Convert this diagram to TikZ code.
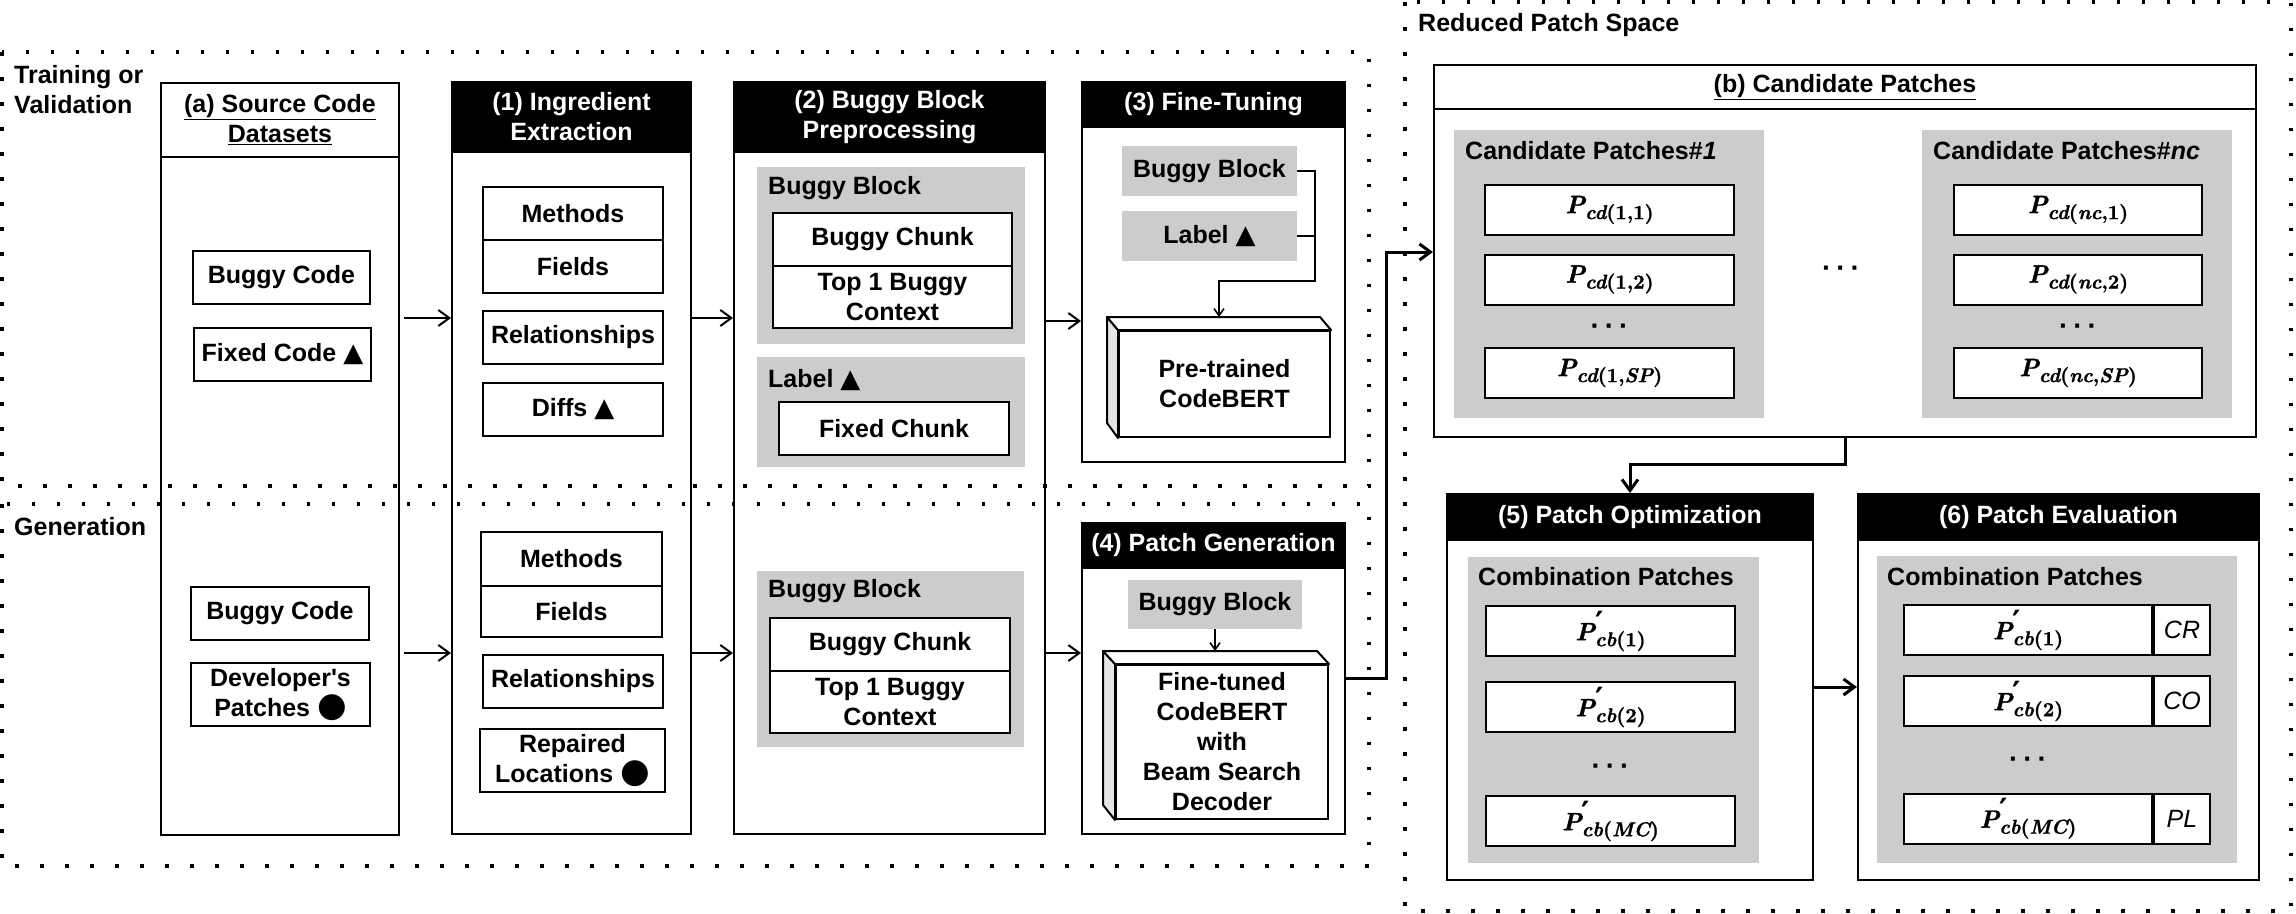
\documentclass[tikz,border=0pt]{standalone}
\usepackage{fontspec}
\setmainfont{Liberation Sans}[Ligatures=TeXOff]
\newfontfamily\mysymf{DejaVu Sans}
\newfontfamily\lmbi{lmroman10-bolditalic.otf}[FakeBold=1.5]
\newfontfamily\lmbis{lmroman10-bolditalic.otf}[FakeBold=1.2]
\newfontfamily\lmb{lmroman10-bold.otf}[FakeBold=1.2]
\newcommand{\mytri}{{\mysymf\fontsize{26}{26}\selectfont ▲}}
\newcommand{\mycirc}{{\mysymf\fontsize{34}{30}\selectfont ●}}
\newcommand{\Pbig}{{\lmbi\fontseries{m}\fontshape{n}\fontsize{25}{26}\selectfont P}}
\newcommand{\sbf}[1]{\raisebox{-6pt}{\lmb\fontseries{m}\fontshape{n}\fontsize{20}{20}\selectfont #1}}
\newcommand{\si}[1]{{\lmbis\fontseries{m}\fontshape{n}\selectfont #1}}
\newcommand{\pP}[1]{\Pbig\sbf{#1}}
\newcommand{\pQ}[1]{\Pbig\rlap{\raisebox{6pt}{\mysymf\fontsize{32}{32}\selectfont ′}}\sbf{#1}}
\newcommand{\mydots}{·\hspace{5pt}·\hspace{5pt}·}
\usetikzlibrary{arrows.meta,calc}
\definecolor{grayfill}{HTML}{CCCCCC}
\definecolor{cubeside}{HTML}{E6E6E6}
\begin{document}
\begin{tikzpicture}[x=1pt,y=-1pt,
  every node/.style={font=\fontsize{25}{30}\selectfont\bfseries, inner sep=0pt, align=center},
  wbox/.style={draw, line width=2pt, fill=white},
  cont/.style={draw, line width=2pt, fill=white},
  hdr/.style={draw, line width=2pt, fill=black, text=white},
  gbox/.style={fill=grayfill},
  dotsnode/.style={font=\bfseries\fontsize{28}{28}\selectfont},
  cellit/.style={font=\fontsize{25}{28}\selectfont\itshape},
  regionline/.style={line width=3.5pt, dash pattern=on 3.5pt off 21.5pt},
  arr/.style={line width=2pt, -{Straight Barb[length=11pt,width=16pt]}},
  arrthick/.style={line width=3pt, -{Straight Barb[length=11pt,width=16pt]}},
  conn/.style={line width=1.6pt, -{Straight Barb[length=7pt,width=10pt]}},
  connplain/.style={line width=1.6pt}
]
\useasboundingbox (0,0) rectangle (2296,913);

% region labels
\node[anchor=west, align=left] (trlbl) at (14,90) {Training or\\Validation};
\node[anchor=west] (genlbl) at (14,527) {Generation};
\node[anchor=west] (rpslbl) at (1418,25) {Reduced Patch Space};

% (a) source code datasets
\node[cont, minimum width=238pt, minimum height=752pt] (srcA) at (280,459) {};
\node[wbox, minimum width=238pt, minimum height=74pt] (srcAh) at (280,120) {\underline{(a) Source Code}\\\underline{Datasets}};
\node[wbox, minimum width=177pt, minimum height=53pt] (bcT) at (281.5,277.5) {Buggy Code};
\node[wbox, minimum width=177pt, minimum height=53pt] (fcT) at (282.5,354.5) {Fixed Code \mytri};
\node[wbox, minimum width=178pt, minimum height=53pt] (bcG) at (280,613.5) {Buggy Code};
\node[wbox, minimum width=179pt, minimum height=63pt] (dpG) at (280.5,694.5) {Developer's\\Patches \mycirc};

% (1) ingredient extraction
\node[cont, minimum width=239pt, minimum height=752pt] (ing) at (571.5,458) {};
\node[hdr, minimum width=239pt, minimum height=70pt] (ingh) at (571.5,117) {(1) Ingredient\\Extraction};
\node[wbox, minimum width=180pt, minimum height=53pt] (meT) at (573,213.5) {Methods};
\node[wbox, minimum width=180pt, minimum height=53pt] (fiT) at (573,266.5) {Fields};
\node[wbox, minimum width=180pt, minimum height=53pt] (reT) at (573,337.5) {Relationships};
\node[wbox, minimum width=180pt, minimum height=53pt] (diT) at (573,409.5) {Diffs \mytri};
\node[wbox, minimum width=181pt, minimum height=54pt] (meG) at (571.5,559) {Methods};
\node[wbox, minimum width=181pt, minimum height=51pt] (fiG) at (571.5,611.5) {Fields};
\node[wbox, minimum width=180pt, minimum height=53pt] (reG) at (573,681.5) {Relationships};
\node[wbox, minimum width=185pt, minimum height=63pt] (rlG) at (572.5,760.5) {Repaired\\Locations \mycirc};

% (2) buggy block preprocessing
\node[cont, minimum width=311pt, minimum height=752pt] (bbp) at (889.5,458) {};
\node[hdr, minimum width=311pt, minimum height=70pt] (bbph) at (889.5,117) {(2) Buggy Block\\Preprocessing};
\node[gbox, minimum width=268pt, minimum height=177pt] (g2a) at (891,255.5) {};
\node[anchor=west] (g2al) at (768,188) {Buggy Block};
\node[wbox, minimum width=239pt, minimum height=53pt] (chT) at (892.5,239.5) {Buggy Chunk};
\node[wbox, minimum width=239pt, minimum height=62pt] (cxT) at (892.5,297) {Top 1 Buggy\\Context};
\node[gbox, minimum width=268pt, minimum height=110pt] (g2b) at (891,412) {};
\node[anchor=west] (g2bl) at (768,380) {Label \mytri};
\node[wbox, minimum width=230pt, minimum height=53pt] (fxT) at (894,428.5) {Fixed Chunk};
\node[gbox, minimum width=267pt, minimum height=176pt] (g2c) at (890.5,659) {};
\node[anchor=west] (g2cl) at (768,591) {Buggy Block};
\node[wbox, minimum width=240pt, minimum height=53pt] (chG) at (890,644.5) {Buggy Chunk};
\node[wbox, minimum width=240pt, minimum height=62pt] (cxG) at (890,702) {Top 1 Buggy\\Context};

% (3) fine-tuning
\node[cont, minimum width=263pt, minimum height=380pt] (ft) at (1213.5,272) {};
\node[hdr, minimum width=263pt, minimum height=45pt] (fth) at (1213.5,104.5) {(3) Fine-Tuning};
\node[gbox, minimum width=175pt, minimum height=50pt] (g3a) at (1209.5,171) {Buggy Block};
\node[gbox, minimum width=175pt, minimum height=50pt] (g3b) at (1209.5,236) {Label \mytri};
\node[wbox, minimum width=211pt, minimum height=106pt] (cb3) at (1224.5,384) {Pre-trained\\CodeBERT};
\draw[line width=2pt, fill=cubeside, line join=round] (cb3.north west) -- ++(-11,-13) -- ++(0,106) -- (cb3.south west) -- cycle;
\draw[line width=2pt, fill=white, line join=round] (cb3.north west) -- ++(-11,-13) -- ($(cb3.north east)+(-11,-13)$) -- (cb3.north east) -- cycle;
\coordinate (c3top) at ($(cb3.north)+(-5.5,-13)$);
\coordinate (j3) at (1315,281);
\draw[conn] (g3a.east) -| (j3) -| (c3top);
\draw[connplain] (g3b.east) -- (g3b.east -| j3);

% (4) patch generation
\node[cont, minimum width=263pt, minimum height=311pt] (pg) at (1213.5,678.5) {};
\node[hdr, minimum width=263pt, minimum height=45pt] (pgh) at (1213.5,545.5) {(4) Patch Generation};
\node[gbox, minimum width=174pt, minimum height=49pt] (g4a) at (1215,604.5) {Buggy Block};
\node[wbox, minimum width=212pt, minimum height=154pt] (cb4) at (1222,742) {Fine-tuned\\CodeBERT\\with\\Beam Search\\Decoder};
\draw[line width=2pt, fill=cubeside, line join=round] (cb4.north west) -- ++(-12,-13) -- ++(0,154) -- (cb4.south west) -- cycle;
\draw[line width=2pt, fill=white, line join=round] (cb4.north west) -- ++(-12,-13) -- ($(cb4.north east)+(-12,-13)$) -- (cb4.north east) -- cycle;
\coordinate (c4top) at ($(cb4.north)+(-6,-13)$);
\draw[conn] (g4a.south) -- (g4a.south |- c4top);

% (b) candidate patches
\node[cont, minimum width=822pt, minimum height=372pt] (cand) at (1845,251) {};
\node[wbox, minimum width=822pt, minimum height=44pt] (candh) at (1845,87) {\underline{(b) Candidate Patches}};
\node[gbox, minimum width=310pt, minimum height=288pt] (gb1) at (1609,274) {};
\node[anchor=west] (gb1l) at (1465,151) {Candidate Patches\#\textit{1}};
\node[wbox, minimum width=249pt, minimum height=50pt] (p11) at (1609.5,210) {\pP{\si{cd}(1,1)}};
\node[wbox, minimum width=249pt, minimum height=50pt] (p12) at (1609.5,279.5) {\pP{\si{cd}(1,2)}};
\node[dotsnode] (p1d) at (1609.5,330) {\mydots};
\node[wbox, minimum width=249pt, minimum height=50pt] (p1s) at (1609.5,373) {\pP{\si{cd}(1,\si{SP})}};
\node[dotsnode] (pmid) at (1841,272) {\mydots};
\node[gbox, minimum width=310pt, minimum height=288pt] (gbn) at (2077,274) {};
\node[anchor=west] (gbnl) at (1933,151) {Candidate Patches\#\textit{nc}};
\node[wbox, minimum width=248pt, minimum height=50pt] (pn1) at (2078,210) {\pP{\si{cd}(\si{nc},1)}};
\node[wbox, minimum width=248pt, minimum height=50pt] (pn2) at (2078,279.5) {\pP{\si{cd}(\si{nc},2)}};
\node[dotsnode] (pnd) at (2078,330) {\mydots};
\node[wbox, minimum width=248pt, minimum height=50pt] (pns) at (2078,373) {\pP{\si{cd}(\si{nc},\si{SP})}};

% (5) patch optimization
\node[cont, minimum width=366pt, minimum height=386pt] (opt) at (1630,687) {};
\node[hdr, minimum width=366pt, minimum height=46pt] (opth) at (1630,517) {(5) Patch Optimization};
\node[gbox, minimum width=291pt, minimum height=306pt] (g5) at (1613.5,710) {};
\node[anchor=west] (g5l) at (1478,577) {Combination Patches};
\node[wbox, minimum width=249pt, minimum height=50pt] (q1) at (1610.5,631) {\pQ{\si{cb}(1)}};
\node[wbox, minimum width=249pt, minimum height=50pt] (q2) at (1610.5,707) {\pQ{\si{cb}(2)}};
\node[dotsnode] (qd) at (1610.5,770) {\mydots};
\node[wbox, minimum width=249pt, minimum height=50pt] (qm) at (1610.5,821) {\pQ{\si{cb}(\si{MC})}};

% (6) patch evaluation
\node[cont, minimum width=401pt, minimum height=386pt] (eval) at (2058.5,687) {};
\node[hdr, minimum width=401pt, minimum height=46pt] (evalh) at (2058.5,517) {(6) Patch Evaluation};
\node[gbox, minimum width=360pt, minimum height=307pt] (g6) at (2057,709.5) {};
\node[anchor=west] (g6l) at (1887,577) {Combination Patches};
\node[wbox, minimum width=248pt, minimum height=50pt] (r1) at (2028,630) {\pQ{\si{cb}(1)}};
\node[wbox, cellit, minimum width=56pt, minimum height=50pt, anchor=west] (r1c) at (r1.east) {CR};
\node[wbox, minimum width=248pt, minimum height=50pt] (r2) at (2028,701) {\pQ{\si{cb}(2)}};
\node[wbox, cellit, minimum width=56pt, minimum height=50pt, anchor=west] (r2c) at (r2.east) {CO};
\node[dotsnode] (rd) at (2028,763) {\mydots};
\node[wbox, minimum width=248pt, minimum height=50pt] (rm) at (2028,818.5) {\pQ{\si{cb}(\si{MC})}};
\node[wbox, cellit, minimum width=56pt, minimum height=50pt, anchor=west] (rmc) at (rm.east) {PL};

% regions (drawn over the boxes, as in the reference)
\draw[regionline] (2,52) rectangle (1369,486);
\draw[regionline] (2,504) rectangle (1369,866);
\draw[regionline] (1405,2) rectangle (2291,911);

% connectors
\coordinate (yT) at (0,318);
\coordinate (yT2) at (0,321);
\coordinate (yG) at (0,653);
\draw[arr, shorten <=4pt] (srcA.east |- yT) -- (ing.west |- yT);
\draw[arr, shorten <=4pt] (srcA.east |- yG) -- (ing.west |- yG);
\draw[arr] (ing.east |- yT) -- (bbp.west |- yT);
\draw[arr] (ing.east |- yG) -- (bbp.west |- yG);
\draw[arr] (bbp.east |- yT2) -- (ft.west |- yT2);
\draw[arr] (bbp.east |- yG) -- (pg.west |- yG);
\coordinate (yK) at (0,678);
\coordinate (k1) at (1386,252);
\draw[arrthick] (pg.east |- yK) -| (k1) -- (k1 -| cand.west);
\draw[arrthick] (cand.south) -- ++(0,26) -| (opt.north);
\coordinate (yO) at (0,687);
\draw[arrthick] (opt.east |- yO) -- (eval.west |- yO);
\end{tikzpicture}
\end{document}
